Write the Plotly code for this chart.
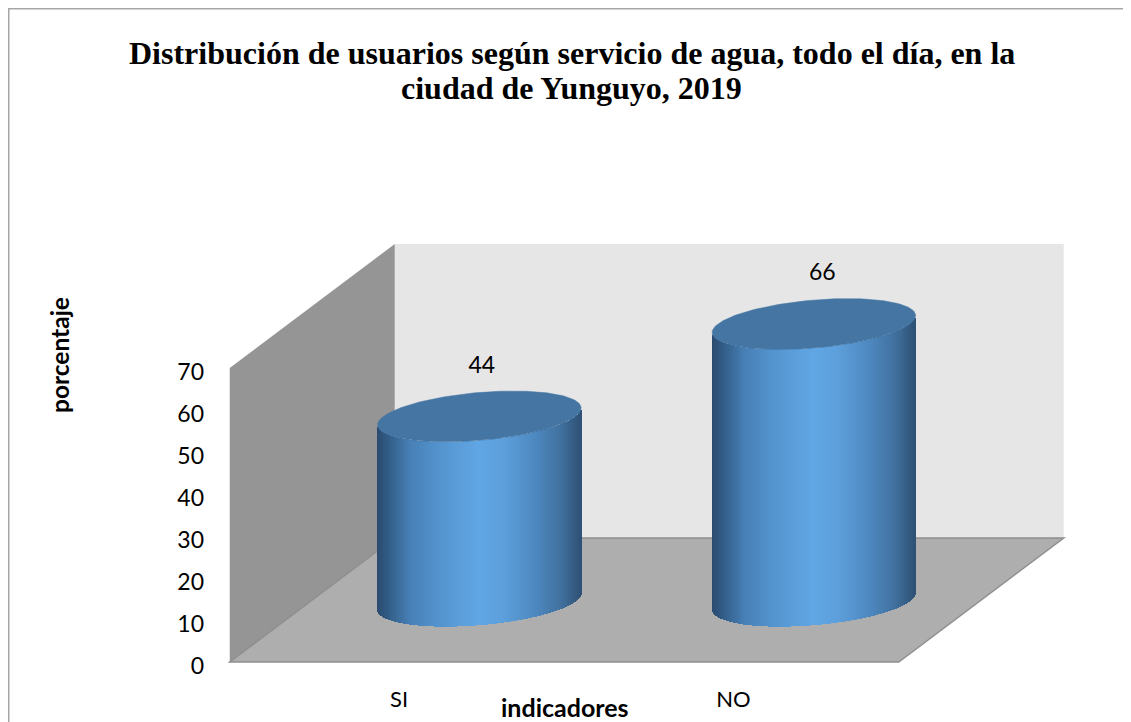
import numpy as np
import plotly.graph_objects as go

# ---- data ----
categories = ["SI", "NO"]
values = [44, 66]
y_ticks = [0, 10, 20, 30, 40, 50, 60, 70]
title_lines = ["Distribución de usuarios según servicio de agua, todo el día, en la",
               "ciudad de Yunguyo, 2019"]
x_title = "indicadores"
y_title = "porcentaje"

# ---- geometry of the oblique projection ----
OFF = 8                 # the page keeps an 8 px body margin
W, H = 1131 - OFF, 722 - OFF
PX_PER_CAT = 334.5      # pixels per category
PX_PER_VAL = 4.2        # pixels per value unit
X0_PX, Y0_PX = 397.0 - OFF, 662.0 - OFF   # pixel of (category 0, value 0)
DEPTH_X = 165 / PX_PER_CAT    # full depth shift, x units
DEPTH_Y = 124 / PX_PER_VAL    # full depth shift, y units
Y_MAX = 70
XL, XR = -0.5, 1.5
CYL_DEPTH = 0.49
CYL_SHIFT = 1.5 / PX_PER_CAT
RX = 96 / PX_PER_CAT
RD = 0.205
LABEL_SHIFT = [2.5 / PX_PER_CAT, 8.5 / PX_PER_CAT]

x_range = [(0 - X0_PX) / PX_PER_CAT, (W - X0_PX) / PX_PER_CAT]
y_range = [(Y0_PX - H) / PX_PER_VAL, Y0_PX / PX_PER_VAL]

BODY = [(0.0, (43, 76, 112)), (0.05, (50, 92, 134)), (0.16, (72, 128, 182)),
        (0.30, (84, 148, 206)), (0.50, (97, 167, 229)), (0.62, (93, 160, 220)),
        (0.78, (78, 136, 192)), (0.90, (66, 114, 160)), (1.0, (47, 82, 118))]
SANS = "Lato, Carlito, sans-serif"


def body_colors(n):
    ts = np.linspace(0, 1, n)
    st = [s[0] for s in BODY]
    ch = [np.interp(ts, st, [s[1][i] for s in BODY]) for i in range(3)]
    return [f"rgb({int(r)},{int(g)},{int(b)})" for r, g, b in zip(*ch)]


def wall(xs, ys, fill, line=None):
    path = "M " + " L ".join(f"{x} {y}" for x, y in zip(xs, ys)) + " Z"
    return dict(type="path", xref="x", yref="y", path=path, layer="below", fillcolor=fill,
                line=dict(color=line or fill, width=1.5 if line else 0))


walls = [
    wall([XL + DEPTH_X, XR + DEPTH_X, XR + DEPTH_X, XL + DEPTH_X],
         [DEPTH_Y, DEPTH_Y, DEPTH_Y + Y_MAX, DEPTH_Y + Y_MAX], "#e6e6e6"),
    wall([XL, XL + DEPTH_X, XL + DEPTH_X, XL],
         [0, DEPTH_Y, DEPTH_Y + Y_MAX, Y_MAX], "#959595"),
    wall([XL, XR, XR + DEPTH_X, XL + DEPTH_X],
         [0, 0, DEPTH_Y, DEPTH_Y], "#aeaeae", "#8f8f8f"),
]

fig = go.Figure()

# cylinders
a, b, c = RX, RD * DEPTH_X, RD * DEPTH_Y
R = np.hypot(a, b)
phi = np.arctan2(b, a)
N = 204
for i, (cat, v) in enumerate(zip(categories, values)):
    cx = i + CYL_DEPTH * DEPTH_X + CYL_SHIFT
    cy = CYL_DEPTH * DEPTH_Y
    xs = np.linspace(-R, R, N + 1)
    mid = (xs[:-1] + xs[1:]) / 2
    u = -np.arccos(np.clip(mid / R, -1, 1))
    low = c * np.sin(phi + u)
    fig.add_trace(go.Bar(x=cx + mid, y=np.full(N, v), base=cy + low, width=(xs[1] - xs[0]) * 1.02,
                         marker=dict(color=body_colors(N), line=dict(width=0)),
                         hoverinfo="skip", showlegend=False))
    t = np.linspace(0, 2 * np.pi, 181)
    fig.add_trace(go.Scatter(x=cx + a * np.cos(t) + b * np.sin(t),
                             y=cy + v + c * np.sin(t),
                             mode="lines", fill="toself", fillcolor="#4475a3",
                             line=dict(color="#4475a3", width=0.5),
                             hoverinfo="skip", showlegend=False))
    # value label
    fig.add_trace(go.Scatter(x=[cx + LABEL_SHIFT[i]], y=[cy + v + 11.8], mode="text", text=[str(v)],
                             textposition="middle center",
                             textfont=dict(family=SANS, size=23, color="#000000"),
                             hoverinfo="skip", showlegend=False))

fig.update_layout(
    width=W, height=H, autosize=False, barmode="overlay", bargap=0,
    margin=dict(l=0, r=0, t=0, b=0),
    paper_bgcolor="#ffffff", plot_bgcolor="rgba(0,0,0,0)",
    showlegend=False,
    xaxis=dict(range=x_range, domain=[0, 1], fixedrange=True, showgrid=False, zeroline=False,
               showline=False, tickmode="array", tickvals=[0, 1], ticktext=categories, ticks="",
               ticklabelshift=2,
               tickfont=dict(family=SANS, size=22, color="#000000"),
               anchor="free", position=1 - 676 / H),
    yaxis=dict(range=y_range, domain=[0, 1], fixedrange=True, showgrid=False, zeroline=False,
               showline=False, tickmode="array", tickvals=y_ticks, ticks="", ticklabelshift=4,
               tickfont=dict(family=SANS, size=23, color="#000000"),
               anchor="free", position=196 / W),
    shapes=walls + [
        dict(type="path", xref="paper", yref="paper",
             path=f"M {0.75/W} 0 L {0.75/W} {1-0.75/H} L 1 {1-0.75/H}",
             line=dict(color="#a6a6a6", width=1.5)),
    ],
    annotations=[
        dict(text=f"<b>{title_lines[0]}</b>", xref="paper", yref="paper",
             x=(572 - OFF) / W, y=1 - (53 - OFF) / H, xanchor="center", yanchor="middle", showarrow=False,
             font=dict(family="Liberation Serif, serif", size=32, color="#000000")),
        dict(text=f"<b>{title_lines[1]}</b>", xref="paper", yref="paper",
             x=(571 - OFF) / W, y=1 - (88 - OFF) / H, xanchor="center", yanchor="middle", showarrow=False,
             font=dict(family="Liberation Serif, serif", size=32, color="#000000")),
        dict(text=f"<b>{x_title}</b>", xref="paper", yref="paper", x=(565 - OFF) / W, y=1 - (707 - OFF) / H,
             xanchor="center", yanchor="middle", showarrow=False,
             font=dict(family=SANS, size=25, color="#000000")),
        dict(text=f"<b>{y_title}</b>", xref="paper", yref="paper", x=(59 - OFF) / W, y=1 - (355 - OFF) / H,
             xanchor="center", yanchor="middle", showarrow=False, textangle=-90,
             font=dict(family=SANS, size=24.5, color="#000000")),
    ],
)
fig.write_html("out.html")
